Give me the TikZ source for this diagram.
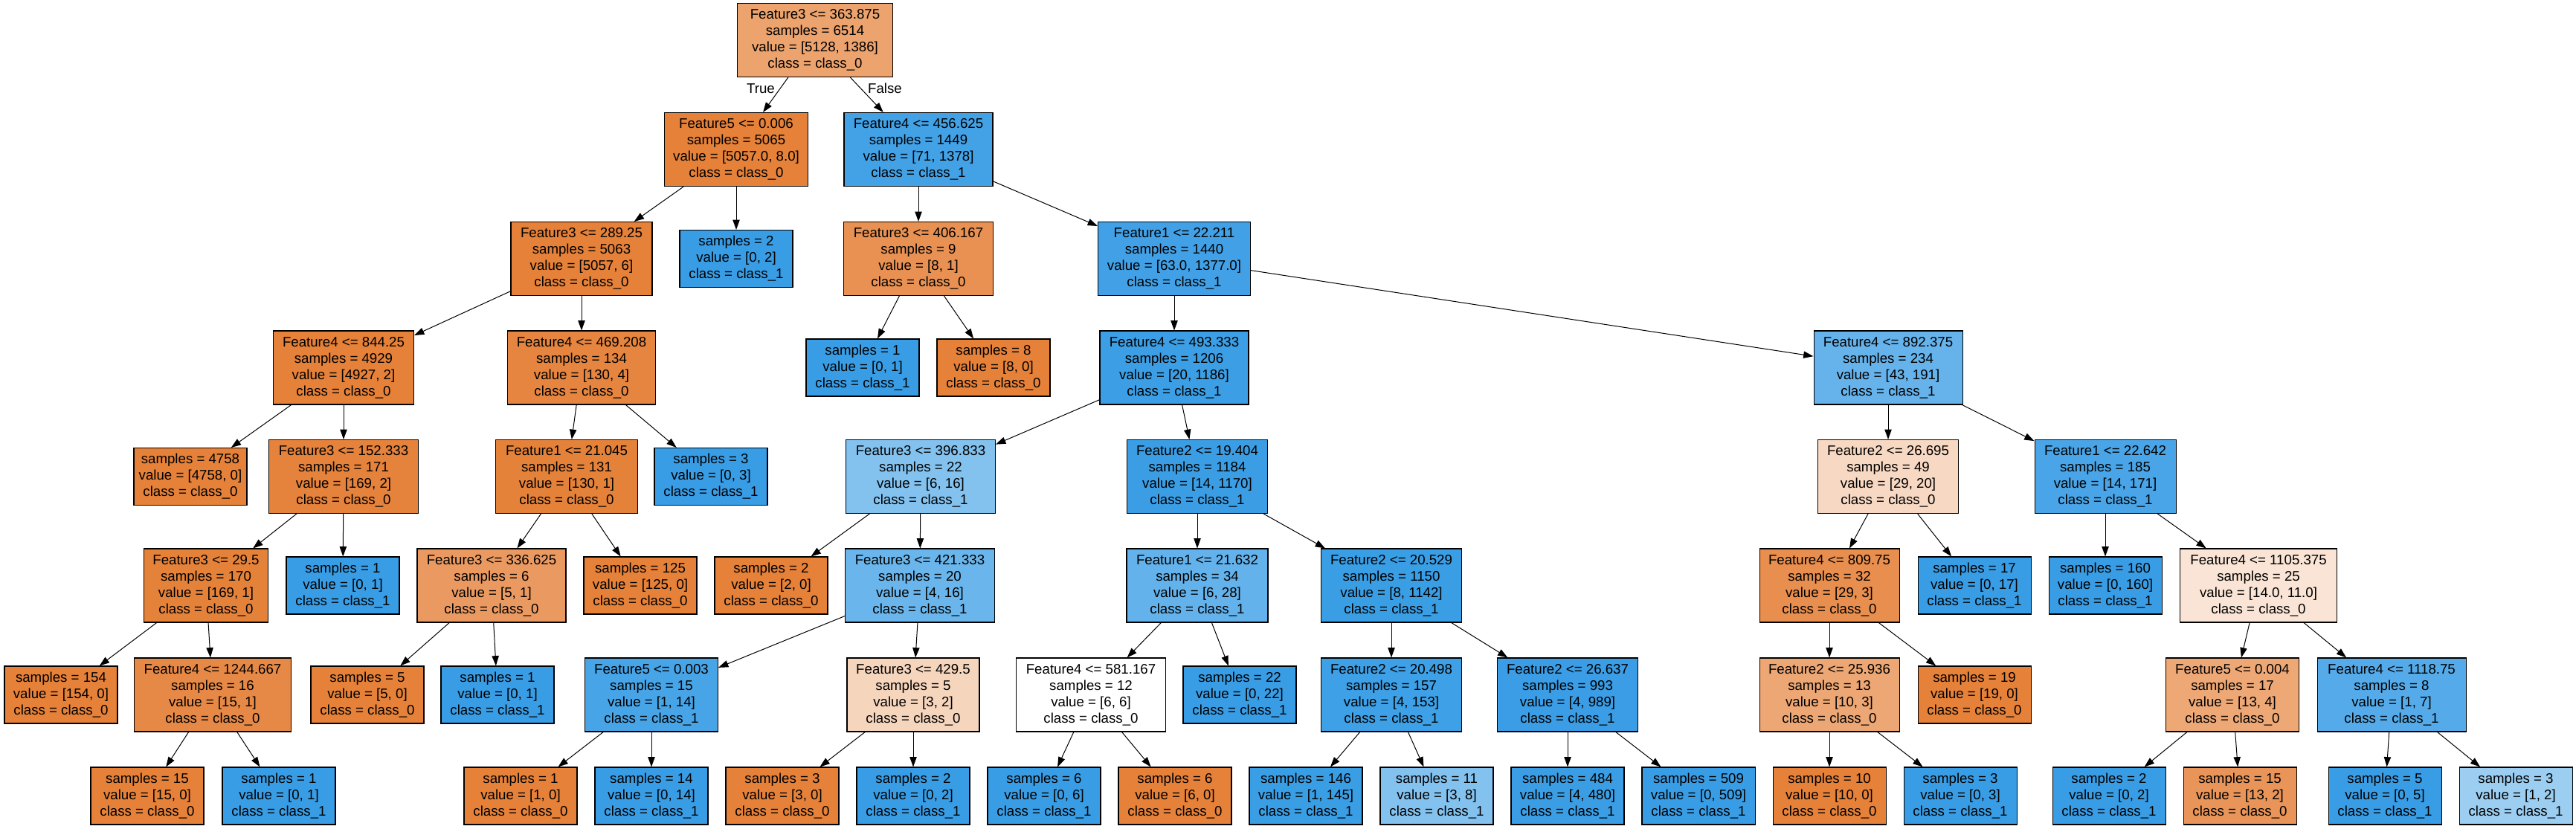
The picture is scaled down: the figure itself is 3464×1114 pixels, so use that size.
\documentclass[tikz,border=0pt]{standalone}
\usepackage{fontspec}
\setmainfont{Liberation Sans}
\usetikzlibrary{arrows.meta}
\tikzset{
  box/.style={draw=black, line width=0.8pt, rectangle, inner sep=0pt, align=center,
    font=\fontsize{14pt}{16.5pt}\selectfont},
  dec/.style={box, minimum height=74.25pt},
  leaf/.style={box, minimum height=57.75pt, minimum width=114pt},
  wd/.style={minimum width=#1*0.75pt},
  edge/.style={draw=black, line width=0.75pt, -{Triangle[length=10pt,width=7pt]}},
  lbl/.style={font=\fontsize{14pt}{16.5pt}\selectfont, inner sep=0pt},
  ora/.style={fill={rgb,255:red,229;green,129;blue,57}},
  blu/.style={fill={rgb,255:red,57;green,157;blue,229}},
  col/.style args={#1,#2,#3}{fill={rgb,255:red,#1;green,#2;blue,#3}}
}
\begin{document}
\begin{tikzpicture}[x=0.75pt,y=-0.75pt]
\useasboundingbox[fill=white] (0,0) rectangle (3464,1114);
% level 0
\node[dec,wd=209,col={236,163,110}] (n0) at (1096,54) {Feature3 <= 363.875\\samples = 6514\\value = [5128, 1386]\\class = class\_0};
% level 1
\node[dec,wd=193,ora] (n1) at (990,201) {Feature5 <= 0.006\\samples = 5065\\value = [5057.0, 8.0]\\class = class\_0};
\node[dec,wd=200,col={67,162,230}] (n2) at (1235,201) {Feature4 <= 456.625\\samples = 1449\\value = [71, 1378]\\class = class\_1};
% level 2
\node[dec,wd=190,ora] (n3) at (782,348) {Feature3 <= 289.25\\samples = 5063\\value = [5057, 6]\\class = class\_0};
\node[leaf,blu] (n4) at (990,348) {samples = 2\\value = [0, 2]\\class = class\_1};
\node[dec,wd=201,col={232,145,82}] (n5) at (1235,348) {Feature3 <= 406.167\\samples = 9\\value = [8, 1]\\class = class\_0};
\node[dec,wd=205,col={66,161,230}] (n6) at (1579,348) {Feature1 <= 22.211\\samples = 1440\\value = [63.0, 1377.0]\\class = class\_1};
% level 3
\node[dec,wd=189,ora] (n7) at (462,494.5) {Feature4 <= 844.25\\samples = 4929\\value = [4927, 2]\\class = class\_0};
\node[dec,wd=199,col={230,133,63}] (n8) at (782,494.5) {Feature4 <= 469.208\\samples = 134\\value = [130, 4]\\class = class\_0};
\node[leaf,blu] (n9) at (1160,494.5) {samples = 1\\value = [0, 1]\\class = class\_1};
\node[leaf,ora] (n10) at (1336,494.5) {samples = 8\\value = [8, 0]\\class = class\_0};
\node[dec,wd=200,col={60,159,229}] (n11) at (1579,494.5) {Feature4 <= 493.333\\samples = 1206\\value = [20, 1186]\\class = class\_1};
\node[dec,wd=200,col={102,179,235}] (n12) at (2539,494.5) {Feature4 <= 892.375\\samples = 234\\value = [43, 191]\\class = class\_1};
% level 4
\node[leaf,ora] (n13) at (256,641) {samples = 4758\\value = [4758, 0]\\class = class\_0};
\node[dec,wd=201,col={229,130,59}] (n14) at (462,641) {Feature3 <= 152.333\\samples = 171\\value = [169, 2]\\class = class\_0};
\node[dec,wd=191,col={229,130,58}] (n15) at (762,641) {Feature1 <= 21.045\\samples = 131\\value = [130, 1]\\class = class\_0};
\node[leaf,blu] (n16) at (956,641) {samples = 3\\value = [0, 3]\\class = class\_1};
\node[dec,wd=201,col={131,194,239}] (n17) at (1238,641) {Feature3 <= 396.833\\samples = 22\\value = [6, 16]\\class = class\_1};
\node[dec,wd=189,col={59,158,229}] (n18) at (1610,641) {Feature2 <= 19.404\\samples = 1184\\value = [14, 1170]\\class = class\_1};
\node[dec,wd=189,col={247,216,194}] (n19) at (2539,641) {Feature2 <= 26.695\\samples = 49\\value = [29, 20]\\class = class\_0};
\node[dec,wd=190,col={73,165,231}] (n20) at (2831,641) {Feature1 <= 22.642\\samples = 185\\value = [14, 171]\\class = class\_1};
% level 5
\node[dec,wd=167,col={229,130,58}] (n21) at (277,787.5) {Feature3 <= 29.5\\samples = 170\\value = [169, 1]\\class = class\_0};
\node[leaf,blu] (n22) at (461,787.5) {samples = 1\\value = [0, 1]\\class = class\_1};
\node[dec,wd=200,col={234,154,97}] (n23) at (661,787.5) {Feature3 <= 336.625\\samples = 6\\value = [5, 1]\\class = class\_0};
\node[leaf,ora] (n24) at (861,787.5) {samples = 125\\value = [125, 0]\\class = class\_0};
\node[leaf,ora] (n25) at (1037,787.5) {samples = 2\\value = [2, 0]\\class = class\_0};
\node[dec,wd=201,col={106,182,236}] (n26) at (1237,787.5) {Feature3 <= 421.333\\samples = 20\\value = [4, 16]\\class = class\_1};
\node[dec,wd=190,col={99,178,235}] (n27) at (1610,787.5) {Feature1 <= 21.632\\samples = 34\\value = [6, 28]\\class = class\_1};
\node[dec,wd=189,col={58,158,229}] (n28) at (1871,787.5) {Feature2 <= 20.529\\samples = 1150\\value = [8, 1142]\\class = class\_1};
\node[dec,wd=188,col={232,142,78}] (n29) at (2460,787.5) {Feature4 <= 809.75\\samples = 32\\value = [29, 3]\\class = class\_0};
\node[leaf,blu] (n30) at (2655,787.5) {samples = 17\\value = [0, 17]\\class = class\_1};
\node[leaf,blu] (n31) at (2831,787.5) {samples = 160\\value = [0, 160]\\class = class\_1};
\node[dec,wd=211,col={249,228,213}] (n32) at (3037,787.5) {Feature4 <= 1105.375\\samples = 25\\value = [14.0, 11.0]\\class = class\_0};
% level 6
\node[leaf,ora] (n33) at (82,934.5) {samples = 154\\value = [154, 0]\\class = class\_0};
\node[dec,wd=211,col={231,137,70}] (n34) at (286,934.5) {Feature4 <= 1244.667\\samples = 16\\value = [15, 1]\\class = class\_0};
\node[leaf,ora] (n35) at (494,934.5) {samples = 5\\value = [5, 0]\\class = class\_0};
\node[leaf,blu] (n36) at (669,934.5) {samples = 1\\value = [0, 1]\\class = class\_1};
\node[dec,wd=179,col={71,164,231}] (n37) at (876,934.5) {Feature5 <= 0.003\\samples = 15\\value = [1, 14]\\class = class\_1};
\node[dec,wd=178,col={246,213,189}] (n38) at (1228,934.5) {Feature3 <= 429.5\\samples = 5\\value = [3, 2]\\class = class\_0};
\node[dec,wd=201,fill=white] (n39) at (1467,934.5) {Feature4 <= 581.167\\samples = 12\\value = [6, 6]\\class = class\_0};
\node[leaf,blu] (n40) at (1667,934.5) {samples = 22\\value = [0, 22]\\class = class\_1};
\node[dec,wd=189,col={62,160,230}] (n41) at (1871,934.5) {Feature2 <= 20.498\\samples = 157\\value = [4, 153]\\class = class\_1};
\node[dec,wd=189,col={58,157,229}] (n42) at (2108,934.5) {Feature2 <= 26.637\\samples = 993\\value = [4, 989]\\class = class\_1};
\node[dec,wd=188,col={237,167,116}] (n43) at (2460,934.5) {Feature2 <= 25.936\\samples = 13\\value = [10, 3]\\class = class\_0};
\node[leaf,ora] (n44) at (2655,934.5) {samples = 19\\value = [19, 0]\\class = class\_0};
\node[dec,wd=179,col={237,168,118}] (n45) at (3002,934.5) {Feature5 <= 0.004\\samples = 17\\value = [13, 4]\\class = class\_0};
\node[dec,wd=200,col={85,171,233}] (n46) at (3216,934.5) {Feature4 <= 1118.75\\samples = 8\\value = [1, 7]\\class = class\_1};
% level 7
\node[leaf,ora] (n47) at (198,1070.5) {samples = 15\\value = [15, 0]\\class = class\_0};
\node[leaf,blu] (n48) at (375,1070.5) {samples = 1\\value = [0, 1]\\class = class\_1};
\node[leaf,ora] (n49) at (700,1070.5) {samples = 1\\value = [1, 0]\\class = class\_0};
\node[leaf,blu] (n50) at (876,1070.5) {samples = 14\\value = [0, 14]\\class = class\_1};
\node[leaf,ora] (n51) at (1052,1070.5) {samples = 3\\value = [3, 0]\\class = class\_0};
\node[leaf,blu] (n52) at (1228,1070.5) {samples = 2\\value = [0, 2]\\class = class\_1};
\node[leaf,blu] (n53) at (1404,1070.5) {samples = 6\\value = [0, 6]\\class = class\_1};
\node[leaf,ora] (n54) at (1580,1070.5) {samples = 6\\value = [6, 0]\\class = class\_0};
\node[leaf,col={58,158,229}] (n55) at (1756,1070.5) {samples = 146\\value = [1, 145]\\class = class\_1};
\node[leaf,col={131,194,239}] (n56) at (1932,1070.5) {samples = 11\\value = [3, 8]\\class = class\_1};
\node[leaf,col={59,158,229}] (n57) at (2108,1070.5) {samples = 484\\value = [4, 480]\\class = class\_1};
\node[leaf,blu] (n58) at (2284,1070.5) {samples = 509\\value = [0, 509]\\class = class\_1};
\node[leaf,ora] (n59) at (2460,1070.5) {samples = 10\\value = [10, 0]\\class = class\_0};
\node[leaf,blu] (n60) at (2636,1070.5) {samples = 3\\value = [0, 3]\\class = class\_1};
\node[leaf,blu] (n61) at (2836,1070.5) {samples = 2\\value = [0, 2]\\class = class\_1};
\node[leaf,col={233,148,88}] (n62) at (3012,1070.5) {samples = 15\\value = [13, 2]\\class = class\_0};
\node[leaf,blu] (n63) at (3207,1070.5) {samples = 5\\value = [0, 5]\\class = class\_1};
\node[leaf,col={156,206,242}] (n64) at (3383,1070.5) {samples = 3\\value = [1, 2]\\class = class\_1};
% edges
\foreach \a/\b in {0/1,0/2,1/3,1/4,2/5,2/6,3/7,3/8,5/9,5/10,6/11,6/12,
  7/13,7/14,8/15,8/16,11/17,11/18,12/19,12/20,14/21,14/22,15/23,15/24,
  17/25,17/26,18/27,18/28,19/29,19/30,20/31,20/32,21/33,21/34,23/35,23/36,
  26/37,26/38,27/39,27/40,28/41,28/42,29/43,29/44,32/45,32/46,34/47,34/48,
  37/49,37/50,38/51,38/52,39/53,39/54,41/55,41/56,42/57,42/58,43/59,43/60,
  45/61,45/62,46/63,46/64}
  \draw[edge] (n\a) -- (n\b);
% edge labels
\node[lbl] (tTrue) at (1023,119) {True};
\node[lbl] (tFalse) at (1190,119) {False};
\end{tikzpicture}
\end{document}
